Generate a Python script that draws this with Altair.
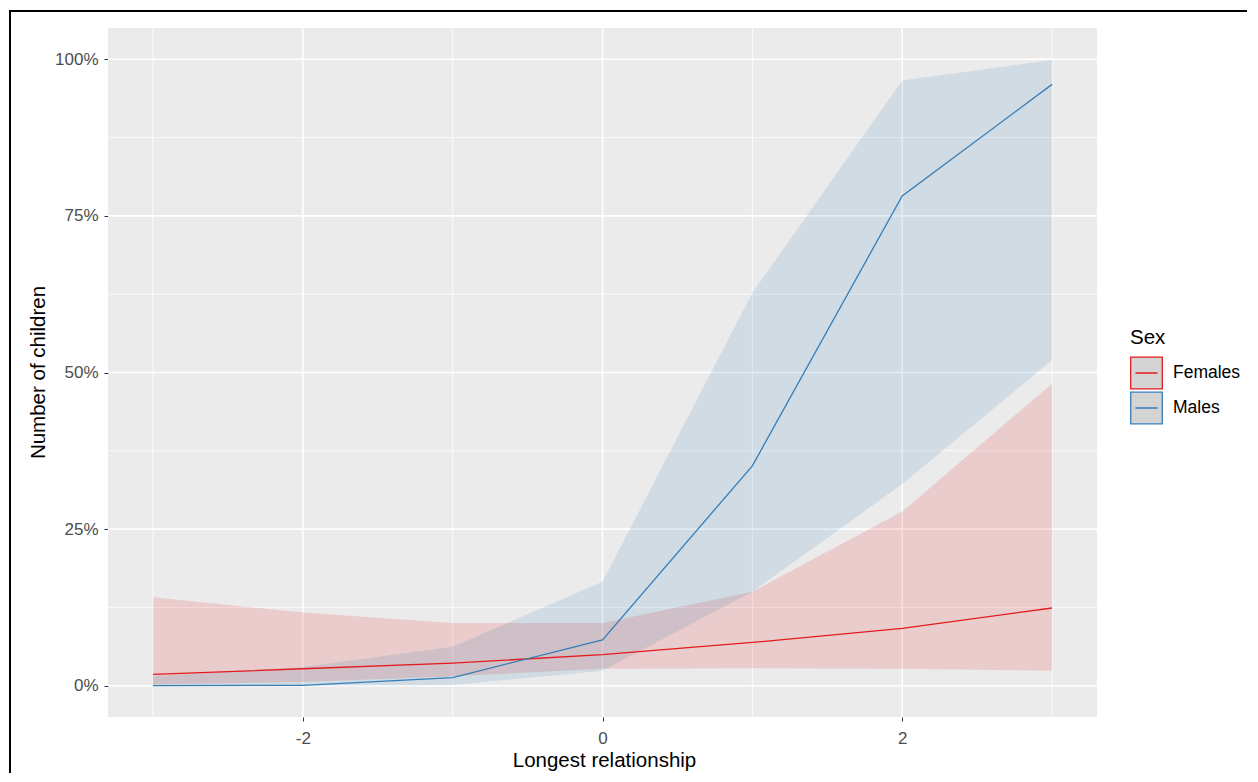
import altair as alt
import pandas as pd

# ---- data ----
x_vals = [-3, -2, -1, 0, 1, 2, 3]
sexes = ["Females", "Males"]

fem_fit = [0.018, 0.027, 0.036, 0.0495, 0.069, 0.0915, 0.124]
fem_lo = [0.002, 0.006, 0.015, 0.027, 0.028, 0.027, 0.024]
fem_hi = [0.141, 0.117, 0.100, 0.100, 0.150, 0.278, 0.482]

male_fit = [0.000, 0.0005, 0.013, 0.073, 0.351, 0.782, 0.960]
male_lo = [0.000, 0.000, 0.001, 0.024, 0.150, 0.322, 0.520]
male_hi = [0.015, 0.030, 0.062, 0.166, 0.627, 0.966, 0.999]

x_major = [-2, 0, 2]
x_minor = [-3, -1, 1, 3]
y_major = [0, 0.25, 0.5, 0.75, 1.0]
y_minor = [0.125, 0.375, 0.625, 0.875]

colors = ["#E41A1C", "#377EB8"]

rows = []
for sex, fit, lo, hi in [("Females", fem_fit, fem_lo, fem_hi), ("Males", male_fit, male_lo, male_hi)]:
    for x, f, l, h in zip(x_vals, fit, lo, hi):
        rows.append({"xv": x, "fit": f, "lo": l, "hi": h, "Sex": sex, "Band": sex})
df = pd.DataFrame(rows)

FONT = "Liberation Sans"
XDOM = [-3.3, 3.3]
YDOM = [-0.05, 1.05]

xscale = alt.Scale(domain=XDOM, nice=False, zero=False)
yscale = alt.Scale(domain=YDOM, nice=False, zero=False)

grid_xmaj = alt.Chart(pd.DataFrame({"g": x_major})).mark_rule(color="white", strokeWidth=1.6).encode(
    x=alt.X("g:Q", scale=xscale))
grid_xmin = alt.Chart(pd.DataFrame({"g": x_minor})).mark_rule(color="white", strokeWidth=0.8).encode(
    x=alt.X("g:Q", scale=xscale))
grid_ymaj = alt.Chart(pd.DataFrame({"g": y_major})).mark_rule(color="white", strokeWidth=1.6).encode(
    y=alt.Y("g:Q", scale=yscale))
grid_ymin = alt.Chart(pd.DataFrame({"g": y_minor})).mark_rule(color="white", strokeWidth=0.8).encode(
    y=alt.Y("g:Q", scale=yscale))

x_axis = alt.Axis(
    values=x_major, labelExpr="datum.value + ''", grid=False, domain=False,
    tickColor="#333333", tickSize=4, tickWidth=1,
    labelColor="#4D4D4D", labelFontSize=17, labelFont=FONT, labelPadding=9,
    title="Longest relationship", titleFont=FONT, titleFontSize=20.5, titleFontWeight="normal",
    titleColor="#000000", titleX=496, titleY=43, titleAlign="center", titleBaseline="middle",
)
y_axis = alt.Axis(
    values=y_major, format=".0%", grid=False, domain=False,
    tickColor="#333333", tickSize=4, tickWidth=1,
    labelColor="#4D4D4D", labelFontSize=17, labelFont=FONT, labelPadding=6,
    title="Number of children", titleFont=FONT, titleFontSize=20.5, titleFontWeight="normal",
    titleColor="#000000", titleX=-70, titleY=344, titleAngle=-90, titleAlign="center",
    titleBaseline="middle",
)

band = alt.Chart(df).mark_area(fillOpacity=0.15).encode(
    x=alt.X("xv:Q", scale=xscale, axis=x_axis),
    y=alt.Y("lo:Q", scale=yscale, axis=y_axis),
    y2=alt.Y2("hi"),
    fill=alt.Fill("Band:N", scale=alt.Scale(domain=sexes, range=colors), legend=None),
)

key_path = "M-1,-1H1V1H-1ZM-0.7,0H0.7"
line = alt.Chart(df).mark_line(strokeWidth=1.3).encode(
    x=alt.X("xv:Q", scale=xscale),
    y=alt.Y("fit:Q", scale=yscale),
    stroke=alt.Stroke(
        "Sex:N", scale=alt.Scale(domain=sexes, range=colors),
        legend=alt.Legend(
            title="Sex", orient="none", legendX=1022, legendY=300,
            symbolType=key_path, symbolSize=1000, symbolFillColor="#D4D4D4",
            symbolStrokeWidth=1.3, symbolOpacity=1,
            titleFont=FONT, titleFontSize=20.5, titleFontWeight="normal", titleColor="#000000",
            titlePadding=8, labelFont=FONT, labelFontSize=17.5, labelColor="#000000",
            labelOffset=10, rowPadding=-3, padding=0,
        ),
    ),
)

border_top = alt.Chart(pd.DataFrame({"k": [0]})).mark_rule(color="#000000", strokeWidth=2).encode(
    x=alt.value(-99), x2=alt.value(1139), y=alt.value(-17))
border_left = alt.Chart(pd.DataFrame({"k": [0]})).mark_rule(color="#000000", strokeWidth=2).encode(
    x=alt.value(-98), y=alt.value(-18), y2=alt.value(745))

chart = alt.layer(
    grid_ymin, grid_ymaj, grid_xmin, grid_xmaj, band, line, border_top, border_left
).resolve_scale(fill="independent", stroke="independent").properties(
    width=989, height=689,
    autosize=alt.AutoSizeParams(type="none"),
    padding={"left": 100, "top": 20, "right": 150, "bottom": 56},
    background="white",
).configure_view(fill="#EBEBEB", stroke=None)

chart.save("out.html", embed_options={"renderer": "svg", "actions": False})
